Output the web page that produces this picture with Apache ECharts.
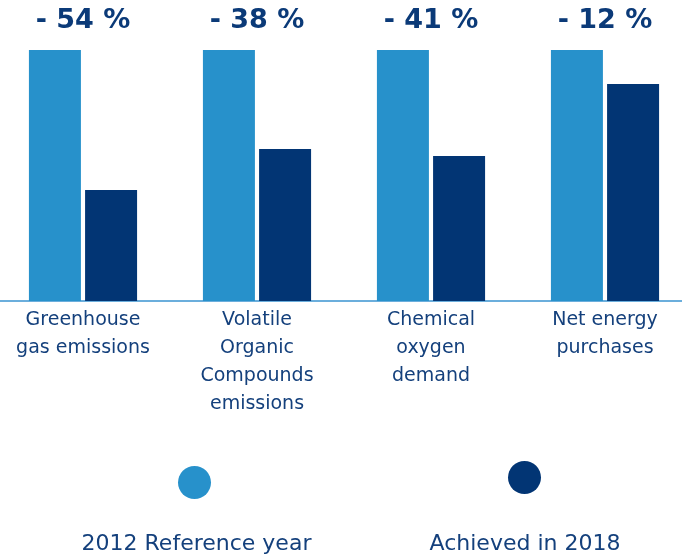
<!DOCTYPE html>
<html><head><meta charset="utf-8">
<script src="https://cdn.jsdelivr.net/npm/echarts@6/dist/echarts.min.js"></script>
<style>html,body{margin:0;padding:0;background:#fff}#c{width:682px;height:556px}</style>
</head><body><div id="c"></div>
<script>
const categories = ['Greenhouse\ngas emissions', 'Volatile\nOrganic\nCompounds\nemissions', 'Chemical\noxygen\ndemand', 'Net energy\npurchases'];
const changeLabels = ['- 54 %', '- 38 %', '- 41 %', '- 12 %'];
const seriesNames = ['2012 Reference year', 'Achieved in 2018'];
const referenceValues = [100, 100, 100, 100];
const achievedValues = [44.2, 60.6, 57.8, 86.5];
const colors = ['#2791cb', '#023574'];

const chart = echarts.init(document.getElementById('c'), null, {renderer: 'canvas'});
const textColor = '#14407c';
chart.setOption({
  animation: false,
  grid: {left: -4, width: 696, top: 50, bottom: 255, containLabel: false, outerBoundsMode: 'none'},
  xAxis: [
    {type: 'category', data: categories, position: 'bottom',
     axisLine: {show: true, lineStyle: {color: '#3a93d0', width: 1.5}},
     axisTick: {show: false},
     axisLabel: {interval: 0, margin: 5, color: textColor, fontFamily: 'DejaVu Sans', fontSize: 19, lineHeight: 28}},
    {type: 'category', data: changeLabels, position: 'top',
     axisLine: {show: false}, axisTick: {show: false},
     axisLabel: {interval: 0, margin: 16, color: '#0b3a78', fontFamily: 'DejaVu Sans', fontWeight: 'bold', fontSize: 27}}
  ],
  yAxis: {type: 'value', min: 0, max: 100, show: false, splitLine: {show: false}},
  series: [
    {name: seriesNames[0], type: 'bar', data: referenceValues, barWidth: 52, barGap: '8%', itemStyle: {color: colors[0]}},
    {name: seriesNames[1], type: 'bar', data: achievedValues, barWidth: 52, barGap: '8%', itemStyle: {color: colors[1]}}
  ],
  graphic: [
    {type: 'circle', shape: {cx: 194.5, cy: 482.5, r: 16.5}, style: {fill: colors[0]}},
    {type: 'circle', shape: {cx: 524.5, cy: 477.5, r: 16.5}, style: {fill: colors[1]}},
    {type: 'text', x: 196.5, y: 544, style: {text: seriesNames[0], fill: textColor, font: '22px "DejaVu Sans"', textAlign: 'center', textVerticalAlign: 'middle'}},
    {type: 'text', x: 525, y: 544, style: {text: seriesNames[1], fill: textColor, font: '22px "DejaVu Sans"', textAlign: 'center', textVerticalAlign: 'middle'}}
  ]
});
</script></body></html>
